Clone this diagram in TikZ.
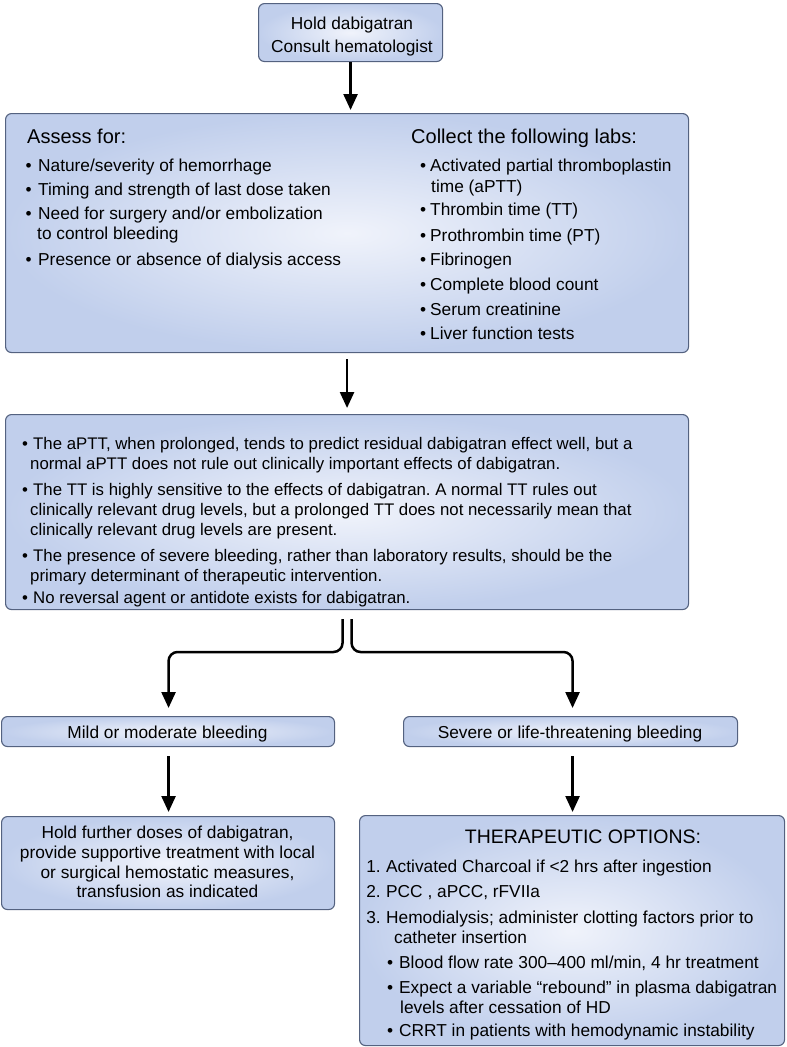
\documentclass[tikz,border=0pt]{standalone}
\usepackage{fontspec}
\setmainfont{Liberation Sans}
\usetikzlibrary{arrows.meta}
\definecolor{boxborder}{RGB}{84,98,128}
\definecolor{boxin}{RGB}{240,243,251}
\definecolor{boxout}{RGB}{193,207,236}
\frenchspacing
\begin{document}
\begin{tikzpicture}[x=1pt,y=-1pt,
  box/.style={draw=boxborder, line width=1.1pt, rounded corners=6pt, inner color=boxin, outer color=boxout, inner sep=0pt, anchor=north west},
  txt/.style={font=\fontsize{17.3}{20}\selectfont, inner sep=0pt, anchor=base west, text=black},
  stxt/.style={txt, font=\fontsize{16.8}{20}\selectfont},
  ctxt/.style={txt, anchor=base},
  numtxt/.style={txt, anchor=base east},
  head/.style={font=\fontsize{20}{24}\selectfont, inner sep=0pt, anchor=base west},
  chead/.style={font=\fontsize{19.5}{24}\selectfont, inner sep=0pt, anchor=base},
  arr/.style={line width=2.5pt, -{Triangle[width=14pt,length=16pt]}},
]
\useasboundingbox (0,0) rectangle (787,1047);

% boxes
\node[box, minimum width=184pt, minimum height=58pt] (top) at (258,3) {};
\node[box, minimum width=683pt, minimum height=239pt] (box2) at (5,113) {};
\node[box, minimum width=683pt, minimum height=195pt] (box3) at (5,414) {};
\node[box, minimum width=333pt, minimum height=30pt] (mild) at (1,716) {};
\node[box, minimum width=334pt, minimum height=30pt] (severe) at (403,716) {};
\node[box, minimum width=333pt, minimum height=93pt] (hold) at (1,816) {};
\node[box, minimum width=425pt, minimum height=230pt] (ther) at (359,815) {};

% top box text
\node[ctxt] (t1) at (352,29) {Hold dabigatran};
\node[ctxt] (t2) at (352,52) {Consult hematologist};

% box 2 left
\node[head] (a0) at (27,143) {Assess for:};
\node[txt] (a1d) at (25.3,171) {•};
\node[txt] (a1) at (38,171) {Nature/severity of hemorrhage};
\node[txt] (a2d) at (25.3,195) {•};
\node[txt] (a2) at (38,195) {Timing and strength of last dose taken};
\node[txt] (a3d) at (25.3,219) {•};
\node[txt] (a3) at (38,219) {Need for surgery and/or embolization};
\node[txt] (a3b) at (37,239) {to control bleeding};
\node[txt] (a4d) at (25.3,265) {•};
\node[txt] (a4) at (38,265) {Presence or absence of dialysis access};

% box 2 right
\node[head] (c0) at (411,143) {Collect the following labs:};
\node[txt] (c1d) at (420,171) {•};
\node[txt] (c1) at (430,171) {Activated partial thromboplastin};
\node[txt] (c1b) at (431,192) {time (aPTT)};
\node[txt] (c2d) at (420,215) {•};
\node[txt] (c2) at (430,215) {Thrombin time (TT)};
\node[txt] (c3d) at (420,241) {•};
\node[txt] (c3) at (430,241) {Prothrombin time (PT)};
\node[txt] (c4d) at (420,265) {•};
\node[txt] (c4) at (430,265) {Fibrinogen};
\node[txt] (c5d) at (420,290) {•};
\node[txt] (c5) at (430,290) {Complete blood count};
\node[txt] (c6d) at (420,315) {•};
\node[txt] (c6) at (430,315) {Serum creatinine};
\node[txt] (c7d) at (420,339) {•};
\node[txt] (c7) at (430,339) {Liver function tests};

% box 3
\node[stxt] (b1d) at (22,449) {•};
\node[stxt] (b1) at (33,449) {The aPTT, when prolonged, tends to predict residual dabigatran effect well, but a};
\node[stxt] (b1b) at (30,469) {normal aPTT does not rule out clinically important effects of dabigatran.};
\node[stxt] (b2d) at (22,495) {•};
\node[stxt] (b2) at (33,495) {The TT is highly sensitive to the effects of dabigatran. A normal TT rules out};
\node[stxt] (b2b) at (30,515) {clinically relevant drug levels, but a prolonged TT does not necessarily mean that};
\node[stxt] (b2c) at (30,535) {clinically relevant drug levels are present.};
\node[stxt] (b3d) at (22,561) {•};
\node[stxt] (b3) at (33,561) {The presence of severe bleeding, rather than laboratory results, should be the};
\node[stxt] (b3b) at (30,581) {primary determinant of therapeutic intervention.};
\node[stxt] (b4d) at (22,603) {•};
\node[stxt] (b4) at (33,603) {No reversal agent or antidote exists for dabigatran.};

% mild / severe
\node[ctxt] (m1) at (167.5,738) {Mild or moderate bleeding};
\node[ctxt] (s1) at (570,738) {Severe or life-threatening bleeding};

% hold further
\node[ctxt] (h1) at (167.5,838) {Hold further doses of dabigatran,};
\node[ctxt] (h2) at (167.5,858) {provide supportive treatment with local};
\node[ctxt] (h3) at (167.5,878) {or surgical hemostatic measures,};
\node[ctxt] (h4) at (167.5,897) {transfusion as indicated};

% therapeutic options
\node[chead] (o0) at (583,843) {THERAPEUTIC OPTIONS:};
\node[numtxt] (o1n) at (381,872) {1.};
\node[txt] (o1) at (386,872) {Activated Charcoal if <2 hrs after ingestion};
\node[numtxt] (o2n) at (381,897) {2.};
\node[txt] (o2) at (386,897) {PCC , aPCC, rFVIIa};
\node[numtxt] (o3n) at (381,923) {3.};
\node[txt] (o3) at (386,923) {Hemodialysis; administer clotting factors prior to};
\node[txt] (o3b) at (394,943) {catheter insertion};
\node[txt] (o4d) at (387,968) {•};
\node[txt] (o4) at (399,968) {Blood flow rate 300–400 ml/min, 4 hr treatment};
\node[txt] (o5d) at (387,993) {•};
\node[txt] (o5) at (399,993) {Expect a variable “rebound” in plasma dabigatran};
\node[txt] (o5b) at (400,1013) {levels after cessation of HD};
\node[txt] (o6d) at (387,1036) {•};
\node[txt] (o6) at (399,1036) {CRRT in patients with hemodynamic instability};

% connectors
\draw[arr, shorten >=3pt] (top.south) -- (top.south |- box2.north);
\draw[arr, shorten <=6pt, shorten >=6pt] (box2.south) -- (box3.north);

\coordinate (hy) at (0,652);
\coordinate (sl) at ([xshift=-4.5pt,yshift=-9pt]box3.south);
\coordinate (sr) at ([xshift=4.5pt,yshift=-9pt]box3.south);
\coordinate (mt) at ([xshift=0.5pt]mild.north);
\coordinate (st) at ([xshift=2pt]severe.north);
\draw[arr, rounded corners=9pt, shorten >=8pt] (sl) -- (sl |- hy) -- (mt |- hy) -- (mt);
\draw[arr, rounded corners=9pt, shorten >=8pt] (sr) -- (sr |- hy) -- (st |- hy) -- (st);

\draw[arr, shorten <=9pt, shorten >=4pt] (mt |- mild.south) -- (mt |- hold.north);
\draw[arr, shorten <=9pt, shorten >=3pt] (st |- severe.south) -- (st |- ther.north);
\end{tikzpicture}
\end{document}
